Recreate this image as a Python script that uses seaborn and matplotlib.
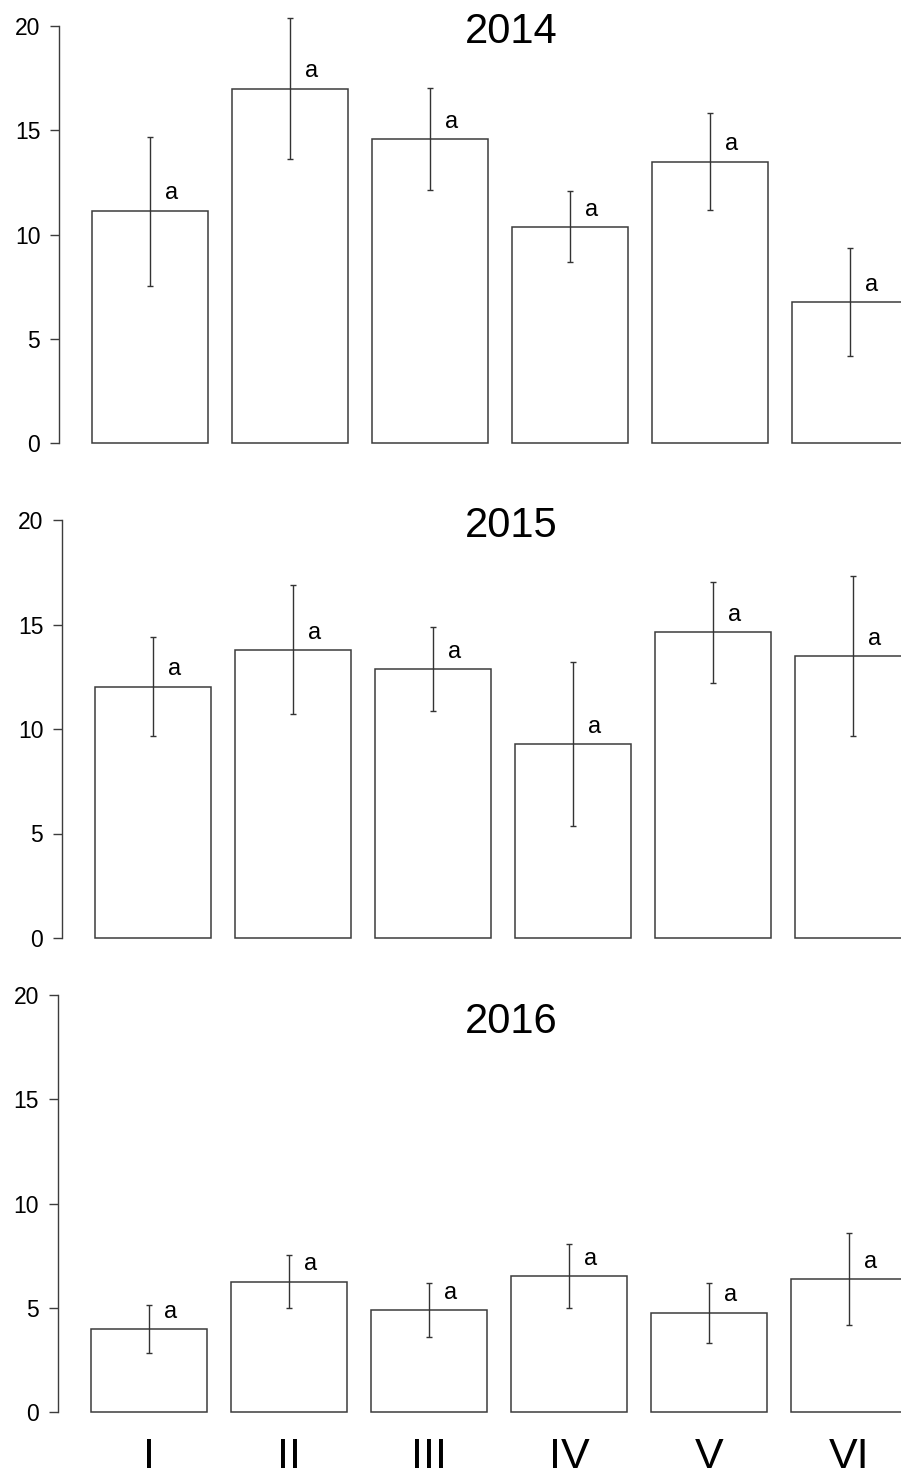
import numpy as np
import pandas as pd
import seaborn as sns
import matplotlib.pyplot as plt

sns.set_style("white")
plt.rcParams['font.family'] = ['Liberation Sans', 'DejaVu Sans']

# data
groups = ["I", "II", "III", "IV", "V", "VI"]
years = ["2014", "2015", "2016"]

mean_2014 = [11.13, 16.98, 14.58, 10.36, 13.48, 6.76]
upper_2014 = [14.70, 20.38, 17.03, 12.09, 15.83, 9.35]
lower_2014 = [7.53, 13.62, 12.13, 8.68, 11.18, 4.17]

mean_2015 = [12.01, 13.78, 12.87, 9.28, 14.64, 13.49]
upper_2015 = [14.40, 16.89, 14.88, 13.20, 17.03, 17.32]
lower_2015 = [9.67, 10.72, 10.86, 5.36, 12.20, 9.67]

mean_2016 = [3.98, 6.24, 4.89, 6.52, 4.75, 6.38]
upper_2016 = [5.13, 7.53, 6.19, 8.06, 6.19, 8.59]
lower_2016 = [2.83, 4.99, 3.60, 4.99, 3.31, 4.17]

letters = ["a", "a", "a", "a", "a", "a"]

panels = [
    (mean_2014, upper_2014, lower_2014),
    (mean_2015, upper_2015, lower_2015),
    (mean_2016, upper_2016, lower_2016),
]

W, H = 901, 1472
fig = plt.figure(figsize=(W / 100, H / 100), dpi=100)

# pixel layout of each panel: left spine x, y of value 0, y of value 20
layout = [(59, 443, 26), (62, 938, 520), (58, 1412, 995)]
title_base = [43, 537, 1033]
edge = "#3c3c3c"

for k, (mean, up, lo) in enumerate(panels):
    left, y0, y20 = layout[k]
    ppu = (y0 - y20) / 20.0
    bot_px = y0 + 0.8 * ppu
    top_px = y20 - 0.8 * ppu
    ax = fig.add_axes([left / W, 1 - bot_px / H, 1 - left / W, (bot_px - top_px) / H])

    df = pd.DataFrame({"group": groups, "value": mean})
    sns.barplot(data=df, x="group", y="value", ax=ax, color="white",
                edgecolor=edge, linewidth=1.1, width=1 / 1.2,
                saturation=1, errorbar=None)

    m = np.array(mean)
    yerr = [m - np.array(lo), np.array(up) - m]
    ax.errorbar(np.arange(len(groups)), m, yerr=yerr, fmt="none",
                ecolor="#333333", elinewidth=1.0, capsize=2.0, capthick=1.0)

    for i, (v, t) in enumerate(zip(mean, letters)):
        ax.text(i + 0.157, v + 0.55, t, ha="center", va="baseline",
                fontsize=17, color="black")

    # x range: -0.65 at left spine, 140 px per group
    ax.set_xlim(-0.65, -0.65 + (W - left) / 140.0)
    ax.set_ylim(-0.8, 20.8)
    ax.set_yticks([0, 5, 10, 15, 20])
    ax.tick_params(axis="y", direction="out", length=6.5, width=1.0,
                   colors=edge, labelcolor="black", labelsize=16.5, pad=7, left=True)
    for s in ["top", "right", "bottom"]:
        ax.spines[s].set_visible(False)
    ax.spines["left"].set_bounds(0, 20)
    ax.spines["left"].set_color(edge)
    ax.spines["left"].set_linewidth(1.0)
    ax.set_xlabel("")
    ax.set_ylabel("")

    if k == 2:
        ax.tick_params(axis="x", length=0, labelsize=31, pad=6, labelcolor="black")
    else:
        ax.set_xticks([])

    fig.text(511 / W, 1 - title_base[k] / H, years[k], ha="center",
             va="baseline", fontsize=30, color="black")

fig.savefig("out.png", dpi=100)
